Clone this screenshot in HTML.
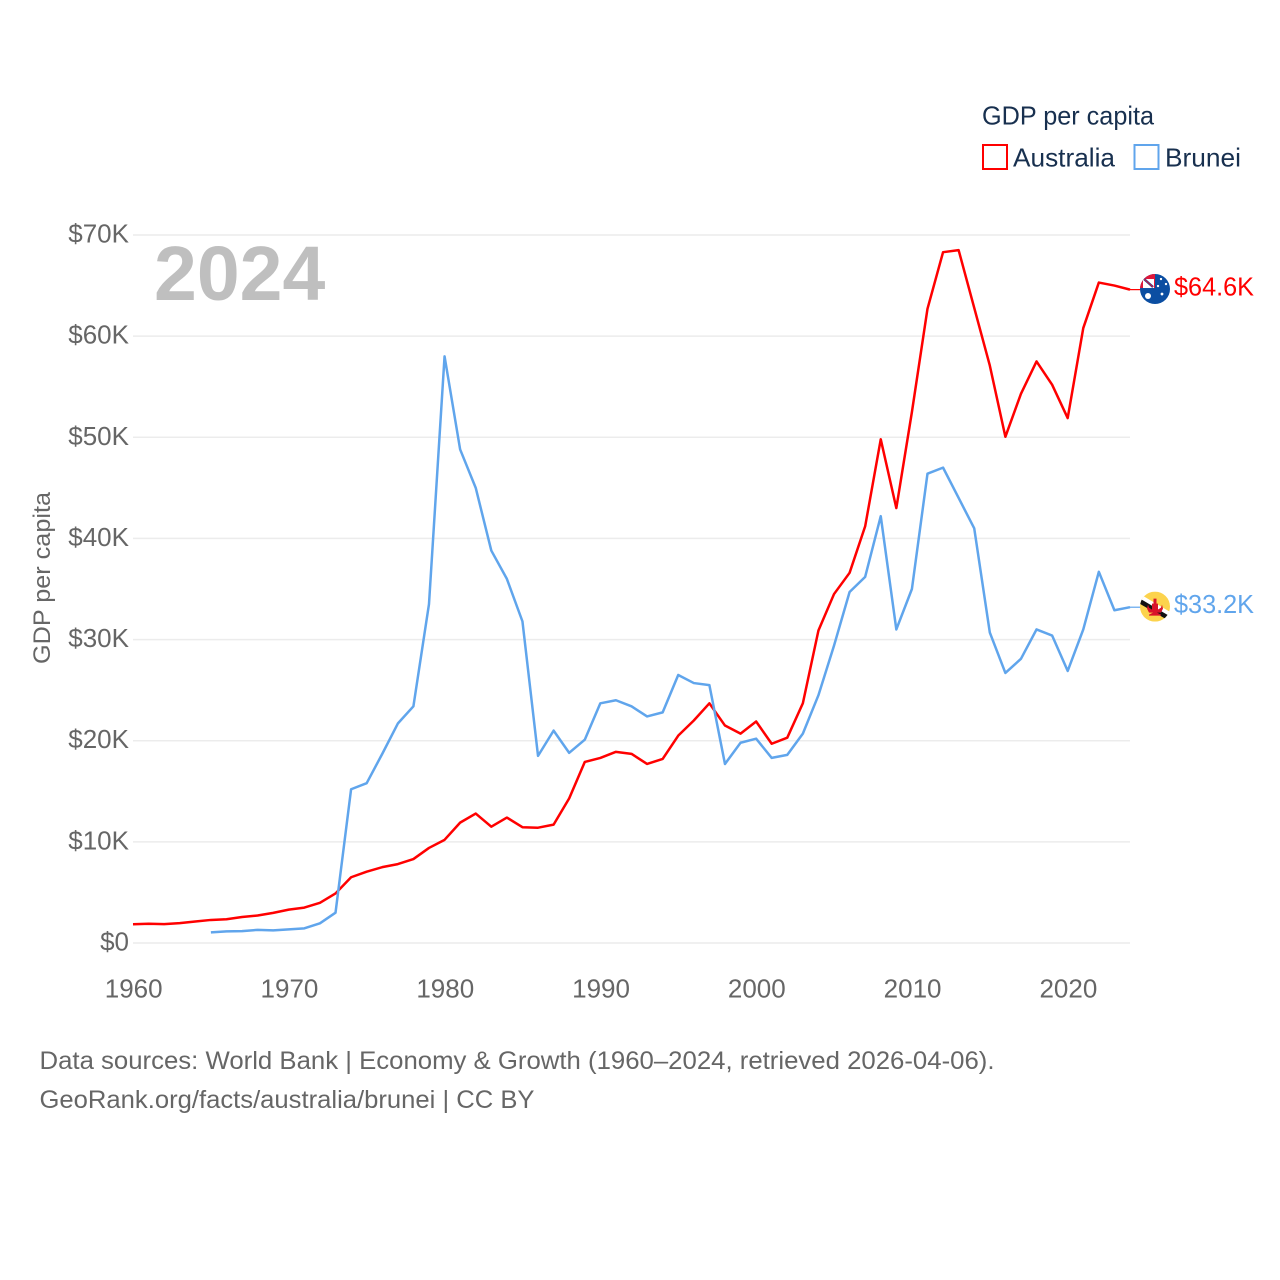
<!DOCTYPE html>
<html lang="en">
<head>
<meta charset="utf-8">
<title>GDP per capita: Australia and Brunei</title>
<style>
html,body{margin:0;padding:0;background:#fff}
svg{display:block}
text{font-family:"Liberation Sans",sans-serif}
</style>
</head>
<body>
<svg id="chart" xmlns="http://www.w3.org/2000/svg" width="1280" height="1280" viewBox="0 0 1280 1280">
  <defs>
    <clipPath id="flag-clip"><circle cx="0" cy="0" r="15"/></clipPath>
  </defs>
  <rect width="1280" height="1280" fill="#fff"/>
  <g id="grid"></g>
  <text x="154" y="300" font-size="77" font-weight="700" fill="#bfbfbf">2024</text>
  <g id="y-ticks"></g>
  <g id="x-ticks"></g>
  <text transform="translate(50,578) rotate(-90)" text-anchor="middle" font-size="24.5" fill="#666" textLength="172" lengthAdjust="spacingAndGlyphs">GDP per capita</text>
  <g id="series"></g>

  <g id="flag-australia">
    <g clip-path="url(#flag-clip)">
      <rect x="-15" y="-16" width="31" height="31" fill="#0b4ea2"/>
      <rect x="-15" y="-16" width="15" height="15" fill="#e0173a"/>
      <rect x="-12" y="-10" width="11" height="9" fill="#fff"/>
      <path d="M-11 -10L-2 -2" stroke="#24408e" stroke-width="2.4"/>
      <path d="M-11 -10L-2 -2" stroke="#e0173a" stroke-width="0.9"/>
      <circle cx="-7" cy="7" r="3" fill="#fff"/>
      <circle cx="6" cy="-10" r="1.2" fill="#fff"/>
      <circle cx="11" cy="-5" r="1.2" fill="#fff"/>
      <circle cx="3" cy="-3" r="1.2" fill="#fff"/>
      <circle cx="7" cy="5" r="1.4" fill="#fff"/>
    </g>
  </g>
  <g id="flag-brunei">
    <g clip-path="url(#flag-clip)">
      <rect x="-15" y="-15" width="30" height="30" fill="#fcd34d"/>
      <path d="M-17 -11L17 9" stroke="#fff" stroke-width="4.5"/>
      <path d="M-17 -6.5L17 13.5" stroke="#111" stroke-width="4.5"/>
      <path d="M-1.5 -8H1.5V-3H3V3L6 1L7 -2L8 2L6 6L2 6L6 8V9H-6V8L-2 6L-6 6L-8 2L-7 -2L-6 1L-3 3V-3H-1.5Z" fill="#d9132a"/>
    </g>
  </g>

  <text id="value-australia" x="1174" y="296" font-size="26" fill="#ff0000" textLength="80" lengthAdjust="spacingAndGlyphs"></text>
  <text id="value-brunei" x="1174" y="614" font-size="26" fill="#60a5ec" textLength="80" lengthAdjust="spacingAndGlyphs"></text>

  <g>
    <text x="982" y="124.5" font-size="26" fill="#18304f" textLength="172" lengthAdjust="spacingAndGlyphs">GDP per capita</text>
    <rect x="983" y="145" width="24" height="24" fill="none" stroke="#ff0000" stroke-width="2"/>
    <text x="1013" y="166.5" font-size="26" fill="#18304f" textLength="102" lengthAdjust="spacingAndGlyphs">Australia</text>
    <rect x="1134.5" y="145" width="24" height="24" fill="none" stroke="#60a5ec" stroke-width="2"/>
    <text x="1165" y="166.5" font-size="26" fill="#18304f" textLength="76" lengthAdjust="spacingAndGlyphs">Brunei</text>
  </g>

  <text x="39.5" y="1069" font-size="25" fill="#666" textLength="955" lengthAdjust="spacingAndGlyphs">Data sources: World Bank | Economy &amp; Growth (1960–2024, retrieved 2026-04-06).</text>
  <text x="39.5" y="1108" font-size="25" fill="#666" textLength="495" lengthAdjust="spacingAndGlyphs">GeoRank.org/facts/australia/brunei | CC BY</text>
</svg>
<script>
const firstYear = 1960;
const lastYear = 2024;
const bruneiStartYear = 1965;
const yTickValues = [0, 10, 20, 30, 40, 50, 60, 70];
const xTickYears = [1960, 1970, 1980, 1990, 2000, 2010, 2020];
const australiaValues = [1.85,1.9,1.87,1.97,2.13,2.28,2.35,2.57,2.72,2.98,3.3,3.5,3.97,4.9,6.5,7.05,7.5,7.8,8.3,9.4,10.2,11.9,12.8,11.5,12.4,11.45,11.4,11.7,14.3,17.9,18.3,18.9,18.7,17.7,18.2,20.5,22.0,23.7,21.5,20.7,21.9,19.7,20.3,23.7,30.9,34.5,36.6,41.2,49.8,43.0,52.5,62.7,68.3,68.5,62.8,57.1,50.05,54.3,57.5,55.2,51.9,60.8,65.3,65.0,64.6];
const bruneiValues = [1.05,1.15,1.17,1.3,1.25,1.35,1.45,1.95,3.0,15.2,15.8,18.7,21.7,23.4,33.5,58.0,48.8,45.0,38.8,36.0,31.8,18.5,21.0,18.8,20.1,23.7,24.0,23.4,22.4,22.8,26.5,25.7,25.5,17.7,19.8,20.2,18.3,18.6,20.7,24.5,29.4,34.7,36.2,42.2,31.0,35.0,46.4,47.0,44.0,41.0,30.7,26.7,28.1,31.0,30.4,26.9,31.0,36.7,32.9,33.2];

const svgNS = 'http://www.w3.org/2000/svg';
const plotLeft = 133, plotRight = 1130, plotTop = 235, plotBottom = 943, yMax = 70;
function xScale(year) { return plotLeft + (year - firstYear) * (plotRight - plotLeft) / (lastYear - firstYear); }
function yScale(value) { return plotBottom - value * (plotBottom - plotTop) / yMax; }
function make(tag) { return document.createElementNS(svgNS, tag); }

const grid = document.getElementById('grid');
const yTicks = document.getElementById('y-ticks');
yTickValues.forEach(function (v) {
  const line = make('line');
  
  
  line.setAttribute('x1', plotLeft);
  line.setAttribute('x2', plotRight);
  line.setAttribute('y1', yScale(v));
  line.setAttribute('y2', yScale(v));
  line.setAttribute('stroke', '#ececec');
  line.setAttribute('stroke-width', '1.5');
  grid.appendChild(line);
  const label = make('text');
  
  
  label.setAttribute('x', 129);
  label.setAttribute('y', yScale(v) + 7.5);
  label.setAttribute('text-anchor', 'end');
  label.setAttribute('font-size', '26');
  label.setAttribute('fill', '#666');
  label.textContent = v === 0 ? '$0' : '$' + v + 'K';
  yTicks.appendChild(label);
});

const xTicks = document.getElementById('x-ticks');
xTickYears.forEach(function (y) {
  const label = make('text');
  
  
  label.setAttribute('x', xScale(y) + 0.7);
  label.setAttribute('y', 997.5);
  label.setAttribute('text-anchor', 'middle');
  label.setAttribute('font-size', '26');
  label.setAttribute('fill', '#666');
  label.textContent = String(y);
  xTicks.appendChild(label);
});

const seriesGroup = document.getElementById('series');
function drawSeries(values, startYear, color, lineName, connectorName) {
  const pts = values.map(function (v, i) { return xScale(startYear + i).toFixed(2) + ',' + yScale(v).toFixed(2); });
  const line = make('polyline');
  
  
  line.setAttribute('points', pts.join(' '));
  line.setAttribute('fill', 'none');
  line.setAttribute('stroke', color);
  line.setAttribute('stroke-width', '2.5');
  line.setAttribute('stroke-linejoin', 'round');
  seriesGroup.appendChild(line);
  const last = values[values.length - 1];
  const conn = make('line');
  
  
  conn.setAttribute('x1', plotRight);
  conn.setAttribute('x2', plotRight + 12);
  conn.setAttribute('y1', yScale(last));
  conn.setAttribute('y2', yScale(last));
  conn.setAttribute('stroke', color);
  conn.setAttribute('stroke-width', '1.2');
  seriesGroup.appendChild(conn);
}
drawSeries(australiaValues, firstYear, '#ff0000', 'australia-line', 'australia-connector');
drawSeries(bruneiValues, bruneiStartYear, '#60a5ec', 'brunei-line', 'brunei-connector');

function placeEnd(flagId, valueId, values) {
  const last = values[values.length - 1];
  const y = yScale(last);
  document.getElementById(flagId).setAttribute('transform', 'translate(1155,' + (y - 0.6) + ')');
  const t = document.getElementById(valueId);
  t.setAttribute('y', y + 6);
  t.textContent = '$' + last.toFixed(1) + 'K';
}
placeEnd('flag-australia', 'value-australia', australiaValues);
placeEnd('flag-brunei', 'value-brunei', bruneiValues);
</script>
</body>
</html>
